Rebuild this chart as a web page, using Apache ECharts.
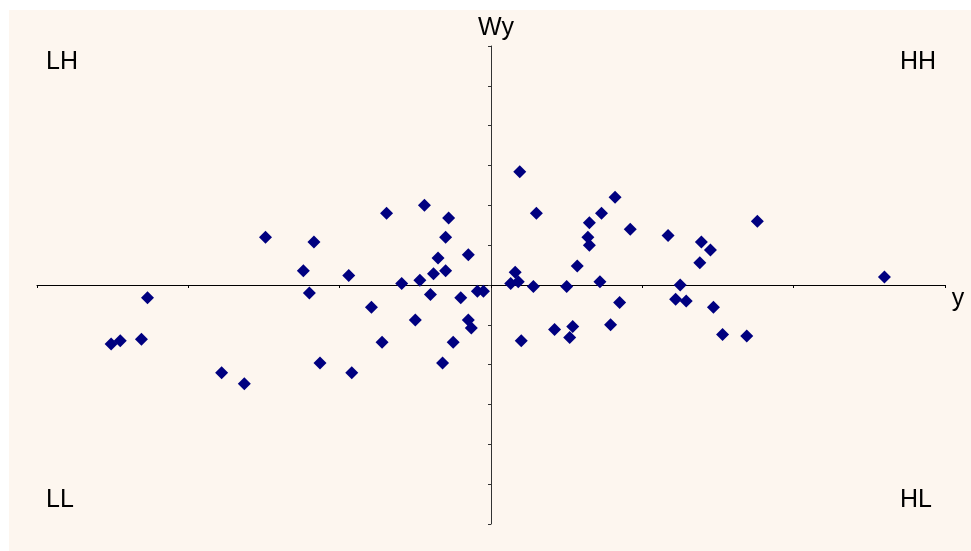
<!DOCTYPE html>
<html>
<head>
<meta charset="utf-8">
<script src="https://cdn.jsdelivr.net/npm/echarts@6/dist/echarts.min.js"></script>
<style>
  html, body { margin: 0; padding: 0; background: #ffffff; }
  #bg { position: absolute; left: 9px; top: 10px; right: 0; bottom: 0; background: #FDF6EF; }
  #chart { position: absolute; left: 0; top: 0; width: 971px; height: 551px; }
</style>
</head>
<body>
<div id="bg"></div>
<div id="chart"></div>
<script>
// standardized y (x axis) and spatial lag Wy (y axis)
const yValues = [
  -1.49, -2.27, -2.51, -2.45, -2.31, -1.78, -1.63, -1.17, -1.24, -1.20,
  -1.13, -0.92, -0.94, -0.79, -0.72, -0.69, -0.59, -0.50, -0.47, -0.44,
  -0.40, -0.38, -0.35, -0.30, -0.28, -0.30, -0.32, -0.25, -0.20, -0.15,
  -0.15, -0.13, -0.09, -0.05,
  0.19, 0.30, 0.82, 0.73, 0.65, 0.92, 0.64, 0.65, 1.17, 0.57,
  0.16, 0.13, 0.18, 0.28, 0.50, 0.72, 1.25, 1.22, 1.29, 0.85,
  0.79, 0.42, 0.54, 0.52, 0.20, 1.76, 1.39, 1.45, 1.38, 2.60,
  1.47, 1.53, 1.69
];
const wyValues = [
  0.30, -0.08, -0.37, -0.35, -0.34, -0.55, -0.62, 0.27, 0.09, -0.05,
  -0.49, -0.55, 0.06, -0.14, -0.36, 0.45, 0.01, -0.22, 0.03, 0.50,
  -0.06, 0.07, 0.17, 0.30, 0.42, 0.09, -0.49, -0.36, -0.08, 0.19,
  -0.22, -0.27, -0.04, -0.04,
  0.71, 0.45, 0.55, 0.45, 0.39, 0.35, 0.30, 0.25, 0.31, 0.12,
  0.08, 0.01, 0.02, -0.01, -0.01, 0.02, 0.00, -0.09, -0.10, -0.11,
  -0.25, -0.28, -0.26, -0.33, -0.35, 0.40, 0.27, 0.22, 0.14, 0.05,
  -0.14, -0.31, -0.32
];
const quadrantLabels = ['LH', 'HH', 'LL', 'HL'];
const xAxisName = 'y';
const yAxisName = 'Wy';

const points = yValues.map((v, i) => [v, wyValues[i]]);

const chart = echarts.init(document.getElementById('chart'), null, { renderer: 'canvas' });
const font = '"Liberation Sans", Arial, sans-serif';
const txt = (text, x, y, align) => ({
  type: 'text', x: x, y: y,
  style: { text: text, fill: '#000', font: '25px ' + font, textAlign: align || 'center', textVerticalAlign: 'middle' }
});

chart.setOption({
  backgroundColor: 'transparent',
  animation: false,
  grid: { left: 37, top: 46, width: 908, height: 478, containLabel: false },
  xAxis: {
    type: 'value', min: -3, max: 3, interval: 1,
    axisLine: { show: true, onZero: true, lineStyle: { color: '#000', width: 1 } },
    axisTick: { show: true, length: 3, lineStyle: { color: '#000' } },
    axisLabel: { show: false },
    splitLine: { show: false }
  },
  yAxis: {
    type: 'value', min: -1.5, max: 1.5, interval: 0.25,
    axisLine: { show: true, onZero: true, lineStyle: { color: '#333', width: 1 } },
    axisTick: { show: true, length: 3, lineStyle: { color: '#333' } },
    axisLabel: { show: false },
    splitLine: { show: false }
  },
  series: [{
    type: 'scatter',
    data: points,
    symbol: 'diamond',
    symbolSize: 13,
    itemStyle: { color: '#000080', opacity: 1 }
  }],
  graphic: [
    txt(quadrantLabels[0], 62, 62),
    txt(quadrantLabels[1], 918, 62),
    txt(quadrantLabels[2], 60, 500),
    txt(quadrantLabels[3], 916, 500),
    txt(yAxisName, 496, 28),
    txt(xAxisName, 958, 299)
  ]
});
</script>
</body>
</html>
